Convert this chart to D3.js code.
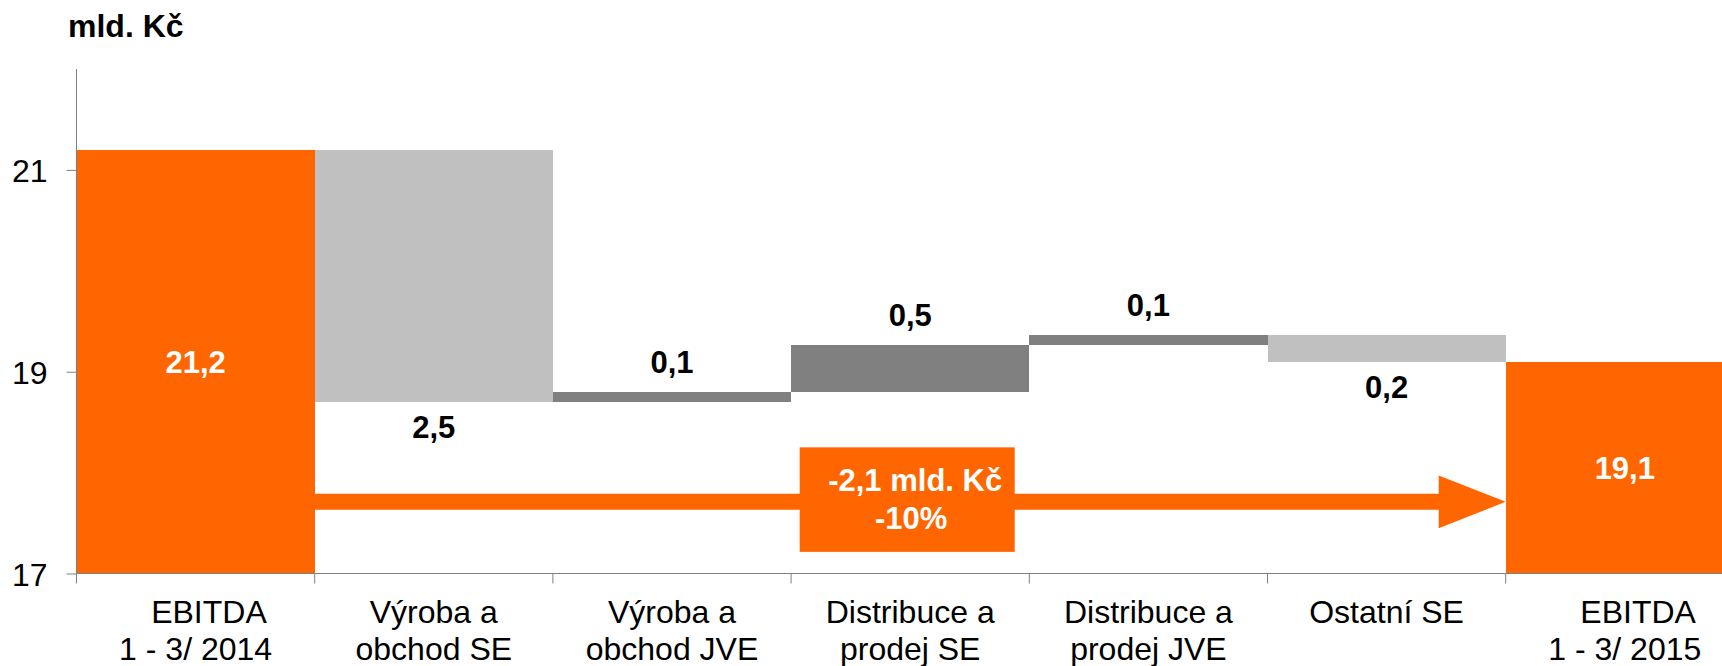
<!DOCTYPE html>
<html>
<head>
<meta charset="utf-8">
<script src="https://cdn.jsdelivr.net/npm/d3@7"></script>
<style>
  html, body { margin: 0; padding: 0; background: #fff; overflow: hidden; }
  svg { display: block; font-family: "Liberation Sans", Arial, sans-serif; }
  text { white-space: pre; }
</style>
</head>
<body>
<svg id="chart" width="1722" height="666"></svg>
<script>
// ---- data ----
const categories = [
  ["   EBITDA", "1 - 3/ 2014"],
  ["Výroba a", "obchod SE"],
  ["Výroba a", "obchod JVE"],
  ["Distribuce a", "prodej SE"],
  ["Distribuce a", "prodej JVE"],
  ["Ostatní SE"],
  ["   EBITDA", "1 - 3/ 2015"]
];
const startValue = 21.2;
const endValue = 19.1;
const deltas = [-2.5, 0.1, 0.46, 0.1, -0.26];
const deltaLabels = ["2,5", "0,1", "0,5", "0,1", "0,2"];
const totalLabels = ["21,2", "19,1"];
const yTicks = [17, 19, 21];
const yDomain = [17, 22];
const unitLabel = "mld. Kč";
const changeLabels = ["-2,1 mld. Kč", "-10%"];
const arrowLevel = 17.71;

// ---- styles ----
const ORANGE = "#FF6600", LIGHT = "#C0C0C0", DARK = "#808080", AXIS = "#808080";
const FONT = 31, CAT_FONT = 32, TICK_FONT = 32;

const svg = d3.select("#chart");
const left = 76.5, bandW = 238.2;
const x = d3.scaleBand().domain(d3.range(categories.length))
  .range([left, left + bandW * categories.length]).padding(0);
const y = d3.scaleLinear().domain(yDomain).range([573.5, 69]);

// build waterfall rows
const rows = [];
rows.push({i: 0, y0: yDomain[0], y1: startValue, color: ORANGE, label: totalLabels[0], kind: "total"});
let run = startValue;
deltas.forEach((d, k) => {
  const a = run, b = run + d;
  rows.push({i: k + 1, y0: Math.min(a, b), y1: Math.max(a, b), color: d < 0 ? LIGHT : DARK,
    label: deltaLabels[k], kind: d < 0 ? "neg" : "pos"});
  run = b;
});
rows.push({i: categories.length - 1, y0: yDomain[0], y1: endValue, color: ORANGE, label: totalLabels[1], kind: "total"});

// bars
svg.append("g").selectAll("rect").data(rows).join("rect")
  .attr("x", d => x(d.i))
  .attr("width", x.bandwidth())
  .attr("y", d => y(d.y1))
  .attr("height", d => y(d.y0) - y(d.y1))
  .attr("fill", d => d.color)
  .attr("shape-rendering", "crispEdges");

// value labels
svg.append("g").selectAll("text").data(rows).join("text")
  .attr("x", d => x(d.i) + x.bandwidth() / 2)
  .attr("y", d => d.kind === "total" ? (y(d.y0) + y(d.y1)) / 2 + 11
                : d.kind === "pos" ? y(d.y1) - 19 : y(d.y0) + 36)
  .attr("text-anchor", "middle")
  .attr("font-weight", "bold")
  .attr("font-size", FONT)
  .attr("fill", d => d.kind === "total" ? "#fff" : "#000")
  .text(d => d.label);

// arrow
const ay = y(arrowLevel), half = 8, headH = 26.3, headLen = 67;
const ax0 = x(0) + x.bandwidth(), ax1 = x(categories.length - 1);
svg.append("path")
  .attr("d", `M${ax0},${ay - half} L${ax1 - headLen},${ay - half} L${ax1 - headLen},${ay - headH}
              L${ax1},${ay} L${ax1 - headLen},${ay + headH} L${ax1 - headLen},${ay + half} L${ax0},${ay + half} Z`)
  .attr("fill", ORANGE);

// change box
const bc = x(3) + x.bandwidth() / 2;
svg.append("rect")
  .attr("x", bc - 110.5).attr("width", 215)
  .attr("y", ay - 54.5).attr("height", 104.5)
  .attr("fill", ORANGE);
svg.append("text")
  .attr("text-anchor", "middle").attr("font-weight", "bold").attr("font-size", FONT).attr("fill", "#fff")
  .selectAll("tspan").data(changeLabels).join("tspan")
  .attr("x", (d, k) => bc + (k === 0 ? 5 : 1))
  .attr("y", (d, k) => ay - 10.5 + k * 37.7)
  .text(d => d);

// y axis
const yAxis = d3.axisLeft(y).tickValues(yTicks).tickSize(10).tickPadding(19).tickFormat(d3.format("d"));
const gy = svg.append("g").attr("transform", `translate(${left},0)`).call(yAxis);
gy.select(".domain").attr("stroke", AXIS).attr("d", `M0,${y(yDomain[1])}V${y(yDomain[0])}`);
gy.selectAll(".tick line").attr("stroke", AXIS);
gy.selectAll(".tick text").attr("font-size", TICK_FONT).attr("fill", "#000")
  .attr("font-family", "Liberation Sans, Arial, sans-serif").attr("dy", "0.36em");

// x axis
const gx = svg.append("g");
gx.append("line").attr("x1", left).attr("x2", 1722).attr("y1", y(yDomain[0])).attr("y2", y(yDomain[0]))
  .attr("stroke", AXIS);
gx.selectAll("line.tk").data(d3.range(categories.length)).join("line").attr("class", "tk")
  .attr("x1", d => x(d)).attr("x2", d => x(d))
  .attr("y1", y(yDomain[0])).attr("y2", y(yDomain[0]) + 10)
  .attr("stroke", AXIS);
const lab = gx.selectAll("text").data(categories).join("text")
  .attr("text-anchor", "middle").attr("font-size", CAT_FONT).attr("fill", "#000");
lab.selectAll("tspan").data((d, i) => d.map(t => ({t, i}))).join("tspan")
  .attr("x", d => x(d.i) + x.bandwidth() / 2)
  .attr("y", (d, k) => 623 + k * 36.7)
  .text(d => d.t);

// unit title
svg.append("text").attr("x", 68).attr("y", 37).attr("font-weight", "bold").attr("font-size", 32)
  .attr("fill", "#000").text(unitLabel);
</script>
</body>
</html>
